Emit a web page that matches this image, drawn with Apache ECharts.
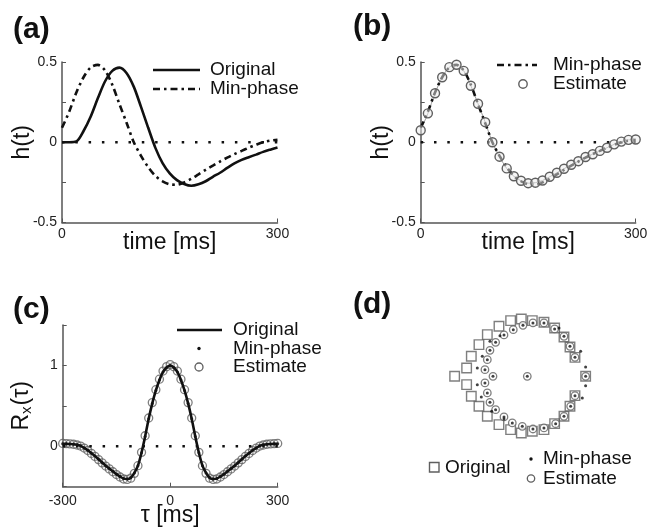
<!DOCTYPE html>
<html>
<head>
<meta charset="utf-8">
<script src="https://cdn.jsdelivr.net/npm/echarts@6/dist/echarts.min.js"></script>
<style>
html, body { margin: 0; padding: 0; background: #fff; }
#chart { width: 661px; height: 529px; }
</style>
</head>
<body>
<div id="chart"></div>
<script>
// ---- data ----
var timeMs = [0, 10, 20, 30, 40, 50, 60, 70, 80, 90, 100, 110, 120, 130, 140, 150,
	160, 170, 180, 190, 200, 210, 220, 230, 240, 250, 260, 270, 280, 290, 300];

var hOriginal = [0, 0, 0.005, 0.07, 0.16, 0.275, 0.38, 0.445, 0.465, 0.43, 0.345,
	0.22, 0.09, -0.035, -0.13, -0.194, -0.236, -0.26, -0.271, -0.262, -0.243,
	-0.215, -0.19, -0.16, -0.132, -0.11, -0.093, -0.077, -0.06, -0.046, -0.033];

var hMinPhase = [0.09, 0.19, 0.31, 0.405, 0.466, 0.482, 0.447, 0.358, 0.237, 0.12, 0,
	-0.085, -0.155, -0.21, -0.243, -0.262, -0.265, -0.25, -0.228, -0.2, -0.172,
	-0.146, -0.12, -0.096, -0.074, -0.054, -0.034, -0.016, 0, 0.01, 0.015];

var hEstimate = [0.075, 0.18, 0.305, 0.405, 0.468, 0.483, 0.445, 0.352, 0.24, 0.125, 0,
	-0.09, -0.163, -0.212, -0.24, -0.255, -0.252, -0.238, -0.215, -0.19, -0.165,
	-0.14, -0.118, -0.092, -0.075, -0.054, -0.034, -0.013, 0.004, 0.015, 0.017];

var lagMs = [-300, -290, -280, -270, -260, -250, -240, -230, -220, -210, -200, -190,
	-180, -170, -160, -150, -140, -130, -120, -110, -100, -90, -80, -70, -60, -50,
	-40, -30, -20, -10, 0, 10, 20, 30, 40, 50, 60, 70, 80, 90, 100, 110, 120, 130,
	140, 150, 160, 170, 180, 190, 200, 210, 220, 230, 240, 250, 260, 270, 280, 290, 300];

var rxOriginal = [0.03, 0.03, 0.028, 0.025, 0.018, 0.005, -0.02, -0.05, -0.085, -0.12,
	-0.16, -0.2, -0.24, -0.275, -0.31, -0.345, -0.375, -0.4, -0.405, -0.39, -0.33,
	-0.24, -0.08, 0.12, 0.34, 0.53, 0.69, 0.82, 0.92, 0.975, 1,
	0.975, 0.92, 0.82, 0.69, 0.53, 0.34, 0.12, -0.08, -0.24, -0.33, -0.39, -0.405,
	-0.4, -0.375, -0.345, -0.31, -0.275, -0.24, -0.2, -0.16, -0.12, -0.085, -0.05,
	-0.02, 0.005, 0.018, 0.025, 0.028, 0.03, 0.03];

var rxEstimate = [0.035, 0.033, 0.03, 0.025, 0.016, 0.003, -0.022, -0.052, -0.088, -0.125,
	-0.165, -0.205, -0.245, -0.28, -0.315, -0.35, -0.38, -0.405, -0.41, -0.395, -0.335,
	-0.24, -0.075, 0.13, 0.35, 0.54, 0.7, 0.83, 0.93, 0.985, 1.01,
	0.985, 0.93, 0.83, 0.7, 0.54, 0.35, 0.13, -0.075, -0.24, -0.335, -0.395, -0.41,
	-0.405, -0.38, -0.35, -0.315, -0.28, -0.245, -0.205, -0.165, -0.125, -0.088, -0.052,
	-0.022, 0.003, 0.016, 0.025, 0.03, 0.033, 0.035];

// zeros in the complex plane [re, im]
var zerosOriginal = [[-1.321, 0], [-1.103, 0.152], [-1.018, 0.364], [-0.879, 0.576],
	[-0.727, 0.758], [-0.515, 0.909], [-0.303, 1.012], [-0.109, 1.042], [0.091, 1.012],
	[0.303, 0.982], [0.497, 0.879], [0.667, 0.715], [0.776, 0.533], [0.867, 0.345],
	[1.061, 0], [-1.103, -0.152], [-1.018, -0.364], [-0.879, -0.545], [-0.727, -0.727],
	[-0.515, -0.879], [-0.303, -0.97], [-0.109, -1.03], [0.091, -1.0], [0.303, -0.97],
	[0.497, -0.861], [0.667, -0.727], [0.776, -0.545], [0.867, -0.352]];

var zerosEstimate = [[1.061, 0], [0.867, 0.345], [0.776, 0.545], [0.667, 0.727],
	[0.497, 0.861], [0.303, 0.97], [0.103, 0.97], [-0.079, 0.927], [-0.255, 0.848],
	[-0.424, 0.752], [-0.576, 0.618], [-0.679, 0.473], [-0.727, 0.303], [-0.77, 0.121],
	[-0.624, 0], [-0.77, -0.121], [-0.727, -0.303], [-0.679, -0.473], [-0.576, -0.606],
	[-0.424, -0.739], [-0.273, -0.848], [-0.091, -0.909], [0.103, -0.958], [0.303, -0.939],
	[0.515, -0.861], [0.667, -0.727], [0.788, -0.545], [0.867, -0.352], [0, 0]];

var zerosMinPhase = [[1.061, 0], [0.867, 0.345], [0.776, 0.545], [0.667, 0.727],
	[0.497, 0.861], [0.303, 0.97], [0.103, 0.97], [-0.079, 0.927], [-0.255, 0.848],
	[-0.424, 0.752], [-0.576, 0.618], [-0.679, 0.473], [-0.727, 0.303], [-0.77, 0.121],
	[-0.624, 0], [-0.77, -0.121], [-0.727, -0.303], [-0.679, -0.473], [-0.576, -0.606],
	[-0.424, -0.739], [-0.273, -0.848], [-0.091, -0.909], [0.103, -0.958], [0.303, -0.939],
	[0.515, -0.861], [0.667, -0.727], [0.788, -0.545], [0.867, -0.352], [0, 0],
	[-0.909, 0.152], [-0.909, -0.152], [-0.818, 0.364], [-0.836, -0.376], [-0.679, 0.636],
	[-0.648, -0.636], [-0.497, 0.739], [-0.424, -0.776], [0.576, 0.879], [0.97, 0.455],
	[1.06, 0.17], [1.06, -0.17], [1.0, -0.394]];

var FONT = '"Liberation Sans", Arial, sans-serif';
var INK = '#111';
var AXIS = '#555';
var RING = '#5f5f5f';

function pairs(xs, ys) {
	return xs.map(function (x, i) { return [x, ys[i]]; });
}

function valueAxis(grid, min, max, interval, shown, name, nameGap, extra) {
	var ax = {
		type: 'value', gridIndex: grid, min: min, max: max, interval: interval,
		splitLine: { show: false },
		axisLine: { show: true, onZero: false, lineStyle: { color: AXIS, width: 1.5 } },
		axisTick: { show: true, inside: true, length: 4, lineStyle: { color: AXIS } },
		axisLabel: {
			show: true, showMinLabel: true, showMaxLabel: true,
			color: '#222', fontSize: 14, fontFamily: FONT, margin: 5,
			formatter: function (v) { return shown.indexOf(v) >= 0 ? String(v) : ''; }
		},
		name: name, nameLocation: 'middle', nameGap: nameGap, nameMoveOverlap: false,
		nameTextStyle: { color: INK, fontSize: 23, fontFamily: FONT }
	};
	if (extra) { for (var k in extra) ax[k] = extra[k]; }
	return ax;
}

function hiddenAxis(grid, min, max) {
	return { type: 'value', gridIndex: grid, min: min, max: max, show: false };
}

var dotted = { color: INK, width: 2.5, type: [2.5, 10.8], cap: 'butt' };
var dashDot = { color: INK, width: 2.6, type: [7, 4, 2.5, 4] };

var chart = echarts.init(document.getElementById('chart'));

chart.setOption({
	backgroundColor: '#fff',
	animation: false,
	textStyle: { fontFamily: FONT },
	grid: [
		{ left: 62, top: 62, width: 215.5, height: 160.5 },
		{ left: 420.7, top: 62, width: 215, height: 160.5 },
		{ left: 62.7, top: 325, width: 215, height: 161.7 },
		{ left: 417.3, top: 293.8, width: 220, height: 165 }
	],
	xAxis: [
		valueAxis(0, 0, 300, 300, [0, 300], 'time [ms]', 9),
		valueAxis(1, 0, 300, 300, [0, 300], 'time [ms]', 9),
		valueAxis(2, -300, 300, 300, [-300, 0, 300], 'τ [ms]', 17, { axisLabel: {
			show: true, showMinLabel: true, showMaxLabel: true,
			color: '#222', fontSize: 14, fontFamily: FONT, margin: 7
		} }),
		hiddenAxis(3, -2, 2)
	],
	yAxis: [
		valueAxis(0, -0.5, 0.5, 0.25, [-0.5, 0, 0.5], 'h(t)', 28),
		valueAxis(1, -0.5, 0.5, 0.25, [-0.5, 0, 0.5], 'h(t)', 28),
		valueAxis(2, -0.5, 1.5, 0.5, [0, 1], 'R{s|x}(τ)', 28, { nameTextStyle: {
			color: INK, fontSize: 23, fontFamily: FONT,
			rich: { s: { fontSize: 15, fontFamily: FONT, color: INK, padding: [12, 1, 0, 0] } }
		} }),
		hiddenAxis(3, -1.5, 1.5)
	],
	series: [
		// (a)
		{ name: 'zeroA', type: 'line', xAxisIndex: 0, yAxisIndex: 0, symbol: 'none',
			data: [[0, 0], [300, 0]], lineStyle: dotted, silent: true },
		{ name: 'Min-phase', type: 'line', xAxisIndex: 0, yAxisIndex: 0, symbol: 'none',
			smooth: 0.3, data: pairs(timeMs, hMinPhase), lineStyle: dashDot },
		{ name: 'Original', type: 'line', xAxisIndex: 0, yAxisIndex: 0, symbol: 'none',
			smooth: 0.3, data: pairs(timeMs, hOriginal), lineStyle: { color: INK, width: 2.6 } },
		// (b)
		{ name: 'zeroB', type: 'line', xAxisIndex: 1, yAxisIndex: 1, symbol: 'none',
			data: [[0, 0], [300, 0]], lineStyle: dotted, silent: true },
		{ name: 'Estimate', type: 'line', xAxisIndex: 1, yAxisIndex: 1, smooth: 0.3,
			data: pairs(timeMs, hEstimate), symbol: 'circle', symbolSize: 9,
			lineStyle: { color: '#9a9a9a', width: 1 },
			itemStyle: { color: 'rgba(235,235,235,0.5)', borderColor: RING, borderWidth: 1.4 } },
		{ name: 'Min-phase', type: 'line', xAxisIndex: 1, yAxisIndex: 1, symbol: 'none',
			smooth: 0.3, data: pairs(timeMs, hMinPhase), lineStyle: dashDot },
		// (c)
		{ name: 'zeroC', type: 'line', xAxisIndex: 2, yAxisIndex: 2, symbol: 'none',
			data: [[-300, 0], [300, 0]], lineStyle: dotted, silent: true },
		{ name: 'Estimate', type: 'scatter', xAxisIndex: 2, yAxisIndex: 2,
			data: pairs(lagMs, rxEstimate), symbol: 'circle', symbolSize: 8,
			itemStyle: { color: 'rgba(255,255,255,0.2)', borderColor: RING, borderWidth: 1.3 } },
		{ name: 'Original', type: 'line', xAxisIndex: 2, yAxisIndex: 2, symbol: 'none',
			smooth: 0.3, data: pairs(lagMs, rxOriginal), lineStyle: { color: INK, width: 2.6 } },
		{ name: 'Min-phase', type: 'scatter', xAxisIndex: 2, yAxisIndex: 2,
			data: pairs(lagMs, rxOriginal), symbol: 'circle', symbolSize: 3,
			itemStyle: { color: INK } },
		// (d)
		{ name: 'Original', type: 'scatter', xAxisIndex: 3, yAxisIndex: 3,
			data: zerosOriginal, symbol: 'rect', symbolSize: 9.5,
			itemStyle: { color: 'rgba(255,255,255,0)', borderColor: RING, borderWidth: 1.4 } },
		{ name: 'Estimate', type: 'scatter', xAxisIndex: 3, yAxisIndex: 3,
			data: zerosEstimate, symbol: 'circle', symbolSize: 7.5,
			itemStyle: { color: '#fff', borderColor: RING, borderWidth: 1.3 } },
		{ name: 'Min-phase', type: 'scatter', xAxisIndex: 3, yAxisIndex: 3,
			data: zerosMinPhase, symbol: 'circle', symbolSize: 3,
			itemStyle: { color: INK } }
	],
	graphic: [
		// panel letters
		{ type: 'text', x: 13, y: 30, style: { text: '(a)', fontSize: 30, fontWeight: 'bold', fontFamily: FONT, fill: INK, verticalAlign: 'middle' } },
		{ type: 'text', x: 353, y: 27, style: { text: '(b)', fontSize: 30, fontWeight: 'bold', fontFamily: FONT, fill: INK, verticalAlign: 'middle' } },
		{ type: 'text', x: 13, y: 310, style: { text: '(c)', fontSize: 30, fontWeight: 'bold', fontFamily: FONT, fill: INK, verticalAlign: 'middle' } },
		{ type: 'text', x: 353, y: 305, style: { text: '(d)', fontSize: 30, fontWeight: 'bold', fontFamily: FONT, fill: INK, verticalAlign: 'middle' } },

		// legend (a)
		{ type: 'line', shape: { x1: 153, y1: 70, x2: 200, y2: 70 }, style: { stroke: INK, lineWidth: 2.6 } },
		{ type: 'text', x: 210, y: 70, style: { text: 'Original', fontSize: 19, fontFamily: FONT, fill: INK, verticalAlign: 'middle' } },
		{ type: 'line', shape: { x1: 153, y1: 89, x2: 200, y2: 89 }, style: { stroke: INK, lineWidth: 2.6, lineDash: [7, 4, 2.5, 4] } },
		{ type: 'text', x: 210, y: 89, style: { text: 'Min-phase', fontSize: 19, fontFamily: FONT, fill: INK, verticalAlign: 'middle' } },

		// legend (b)
		{ type: 'line', shape: { x1: 497, y1: 65, x2: 537, y2: 65 }, style: { stroke: INK, lineWidth: 2.6, lineDash: [7, 4, 2.5, 4] } },
		{ type: 'text', x: 553, y: 65, style: { text: 'Min-phase', fontSize: 19, fontFamily: FONT, fill: INK, verticalAlign: 'middle' } },
		{ type: 'circle', shape: { cx: 523, cy: 84, r: 4.2 }, style: { fill: '#fff', stroke: RING, lineWidth: 1.4 } },
		{ type: 'text', x: 553, y: 84, style: { text: 'Estimate', fontSize: 19, fontFamily: FONT, fill: INK, verticalAlign: 'middle' } },

		// legend (c)
		{ type: 'line', shape: { x1: 177, y1: 330, x2: 222, y2: 330 }, style: { stroke: INK, lineWidth: 2.6 } },
		{ type: 'text', x: 233, y: 330, style: { text: 'Original', fontSize: 19, fontFamily: FONT, fill: INK, verticalAlign: 'middle' } },
		{ type: 'circle', shape: { cx: 199, cy: 348.5, r: 1.7 }, style: { fill: INK } },
		{ type: 'text', x: 233, y: 348.5, style: { text: 'Min-phase', fontSize: 19, fontFamily: FONT, fill: INK, verticalAlign: 'middle' } },
		{ type: 'circle', shape: { cx: 199, cy: 367, r: 4 }, style: { fill: '#fff', stroke: RING, lineWidth: 1.3 } },
		{ type: 'text', x: 233, y: 367, style: { text: 'Estimate', fontSize: 19, fontFamily: FONT, fill: INK, verticalAlign: 'middle' } },

		// legend (d)
		{ type: 'rect', shape: { x: 429.5, y: 462.5, width: 9.5, height: 9.5 }, style: { fill: 'none', stroke: RING, lineWidth: 1.4 } },
		{ type: 'text', x: 445, y: 467.5, style: { text: 'Original', fontSize: 19, fontFamily: FONT, fill: INK, verticalAlign: 'middle' } },
		{ type: 'circle', shape: { cx: 531, cy: 459, r: 1.7 }, style: { fill: INK } },
		{ type: 'text', x: 543, y: 459, style: { text: 'Min-phase', fontSize: 19, fontFamily: FONT, fill: INK, verticalAlign: 'middle' } },
		{ type: 'circle', shape: { cx: 531, cy: 478.5, r: 3.7 }, style: { fill: '#fff', stroke: RING, lineWidth: 1.3 } },
		{ type: 'text', x: 543, y: 478.5, style: { text: 'Estimate', fontSize: 19, fontFamily: FONT, fill: INK, verticalAlign: 'middle' } }
	]
});
</script>
</body>
</html>
